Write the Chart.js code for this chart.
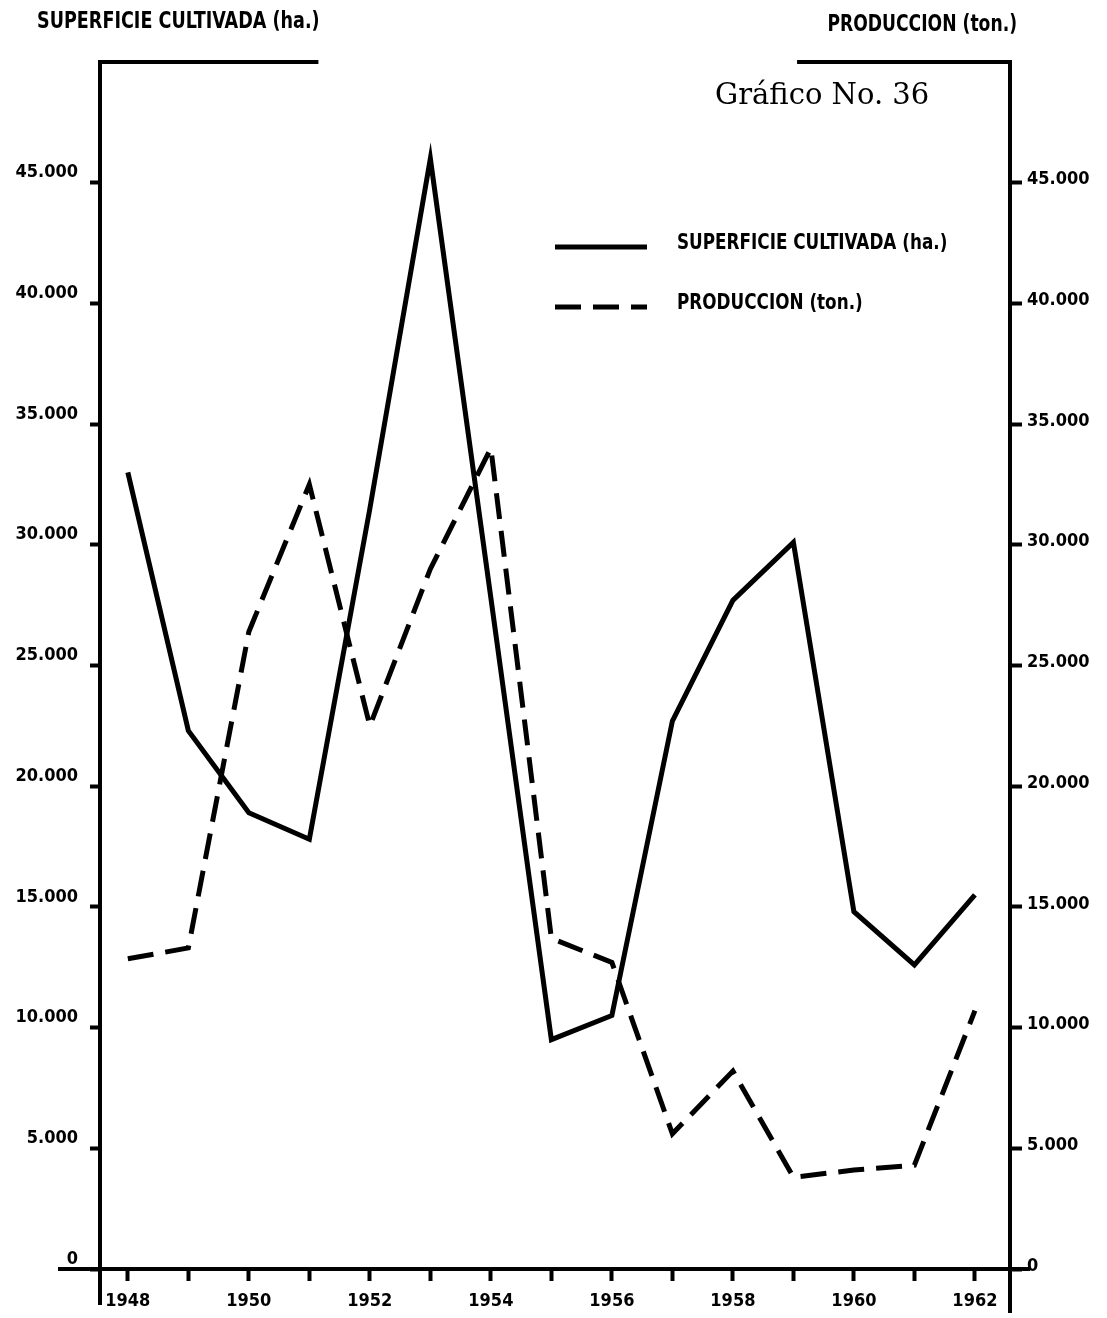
<!DOCTYPE html>
<html>
<head>
<meta charset="utf-8">
<script src="https://cdn.jsdelivr.net/npm/chart.js@4.4.1/dist/chart.umd.min.js"></script>
<style>
  html, body { margin: 0; padding: 0; background: #fff; }
  #wrap { width: 1107px; height: 1318px; position: relative; }
</style>
</head>
<body>
<div id="wrap"><canvas id="c"></canvas></div>
<script>
// ---- data ----
const years = [1948, 1949, 1950, 1951, 1952, 1953, 1954, 1955, 1956, 1957, 1958, 1959, 1960, 1961, 1962];
const superficie = [33000, 22300, 18900, 17800, 31500, 46000, 27800, 9500, 10500, 22700, 27700, 30100, 14800, 12600, 15500];
const produccion = [12850, 13300, 26400, 32500, 22500, 29000, 34000, 13700, 12700, 5600, 8200, 3800, 4100, 4300, 10700];
const yTickValues = [0, 5000, 10000, 15000, 20000, 25000, 30000, 35000, 40000, 45000];
const xLabelYears = [1948, 1950, 1952, 1954, 1956, 1958, 1960, 1962];
const leftTitle = 'SUPERFICIE CULTIVADA (ha.)';
const rightTitle = 'PRODUCCION (ton.)';
const chartTitle = 'Gráfico No. 36';
const seriesNames = ['SUPERFICIE CULTIVADA (ha.)', 'PRODUCCION (ton.)'];

const NARROW = '"Liberation Sans Narrow", "DejaVu Sans Condensed", "Arial Narrow", "Roboto Condensed", sans-serif';
const fmt = v => v === 0 ? '0' : (v / 1000).toFixed(0) + '.000';

function narrowText(ctx, text, x, y, align, sx) {
  ctx.save();
  ctx.translate(x, y);
  ctx.scale(sx, 1);
  ctx.textAlign = align;
  ctx.fillText(text, 0, 0);
  ctx.restore();
}

const decor = {
  id: 'decor',
  afterDraw(chart) {
    const ctx = chart.ctx;
    const a = chart.chartArea;
    ctx.save();
    ctx.strokeStyle = '#000';
    ctx.lineWidth = 4;
    ctx.lineCap = 'butt';
    ctx.beginPath();
    // top frame pieces
    ctx.moveTo(a.left - 2, a.top); ctx.lineTo(a.left + a.width * 0.24, a.top);
    ctx.moveTo(a.left + a.width * 0.766, a.top); ctx.lineTo(a.right + 2, a.top);
    // axis extensions
    ctx.moveTo(58, a.bottom); ctx.lineTo(a.left, a.bottom);
    ctx.moveTo(a.right, a.bottom); ctx.lineTo(1030, a.bottom);
    ctx.moveTo(a.left, a.bottom); ctx.lineTo(a.left, a.bottom + 36);
    ctx.moveTo(a.right, a.bottom); ctx.lineTo(a.right, a.bottom + 44);
    ctx.stroke();

    // titles
    ctx.fillStyle = '#000';
    ctx.font = 'bold 23px ' + NARROW;
    ctx.textBaseline = 'middle';
    narrowText(ctx, leftTitle, 37, 22, 'left', 0.85);
    narrowText(ctx, rightTitle, 1017, 25, 'right', 0.83);
    ctx.font = '29px "DejaVu Serif", "Liberation Serif", serif';
    ctx.textBaseline = 'alphabetic';
    narrowText(ctx, chartTitle, 715, 104, 'left', 1);

    // legend
    const rows = [a.top + 183, a.top + 243];
    chart.data.datasets.forEach((ds, i) => {
      const y = rows[i];
      ctx.beginPath();
      ctx.lineWidth = ds.borderWidth;
      ctx.setLineDash(ds.borderDash || []);
      ctx.moveTo(555, y + 2); ctx.lineTo(647, y + 2);
      ctx.stroke();
      ctx.setLineDash([]);
      ctx.font = 'bold 22px ' + NARROW;
      ctx.textBaseline = 'middle';
      narrowText(ctx, ds.label, 677, y - 2, 'left', 0.85);
    });
    ctx.restore();
  }
};

const tickFont = { family: NARROW, size: 18, weight: 'bold' };

new Chart(document.getElementById('c'), {
  type: 'line',
  data: {
    datasets: [
      {
        label: seriesNames[0],
        data: years.map((y, i) => ({ x: y, y: superficie[i] })),
        borderColor: '#000', borderWidth: 5, pointRadius: 0, tension: 0,
        borderJoinStyle: 'miter', borderCapStyle: 'butt', yAxisID: 'y'
      },
      {
        label: seriesNames[1],
        data: years.map((y, i) => ({ x: y, y: produccion[i] })),
        borderColor: '#000', borderWidth: 5, pointRadius: 0, tension: 0,
        borderDash: [26, 12], borderJoinStyle: 'miter', borderCapStyle: 'butt', yAxisID: 'y2'
      }
    ]
  },
  options: {
    responsive: true,
    maintainAspectRatio: false,
    animation: false,
    layout: { padding: { top: 62, left: 0, right: 0, bottom: 0 } },
    plugins: { legend: { display: false }, tooltip: { enabled: false }, title: { display: false } },
    scales: {
      x: {
        type: 'linear', position: 'bottom', min: 1947.54, max: 1962.58,
        afterBuildTicks: s => { s.ticks = years.map(v => ({ value: v })); },
        afterFit: s => { s.height = 49; },
        border: { display: true, color: '#000', width: 4 },
        grid: { drawOnChartArea: false, drawTicks: true, tickLength: 12, tickWidth: 4, tickColor: '#000' },
        ticks: {
          autoSkip: false, maxRotation: 0, minRotation: 0, padding: 10, color: '#000', font: tickFont,
          callback: v => xLabelYears.includes(v) ? String(v) : ''
        }
      },
      y: {
        position: 'left', min: 0, max: 50000,
        afterBuildTicks: s => { s.ticks = yTickValues.map(v => ({ value: v })); },
        afterFit: s => { s.width = 100; },
        border: { display: true, color: '#000', width: 4 },
        grid: { drawOnChartArea: false, drawTicks: true, tickLength: 10, tickWidth: 4, tickColor: '#000' },
        ticks: { padding: 12, labelOffset: -10, color: '#000', font: tickFont, callback: v => fmt(v) }
      },
      y2: {
        position: 'right', min: 0, max: 50000,
        afterBuildTicks: s => { s.ticks = yTickValues.map(v => ({ value: v })); },
        afterFit: s => { s.width = 97; },
        border: { display: true, color: '#000', width: 4 },
        grid: { drawOnChartArea: false, drawTicks: true, tickLength: 12, tickWidth: 4, tickColor: '#000' },
        ticks: { padding: 5, labelOffset: -3, color: '#000', font: tickFont, callback: v => fmt(v) }
      }
    }
  },
  plugins: [decor]
});
</script>
</body>
</html>
